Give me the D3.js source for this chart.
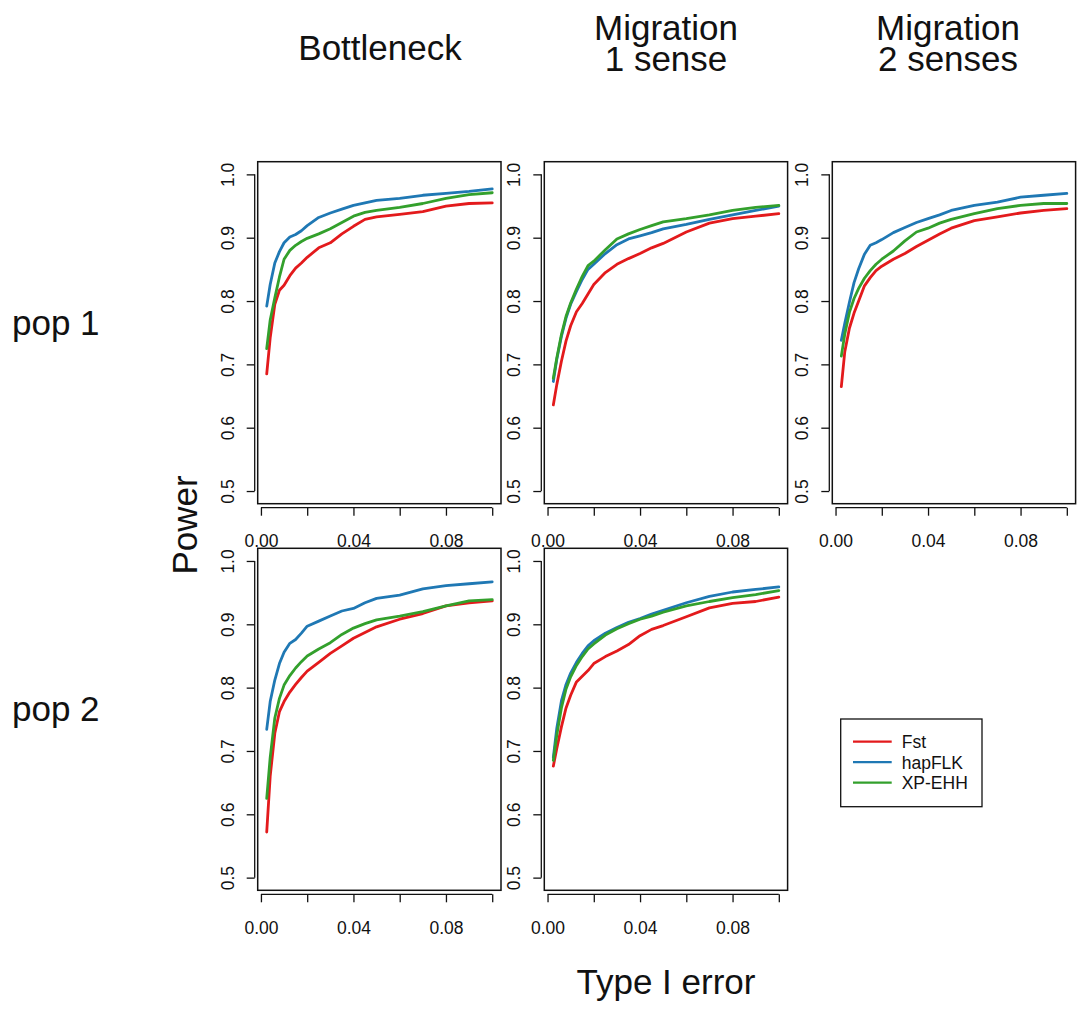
<!DOCTYPE html>
<html>
<head>
<meta charset="utf-8">
<script src="https://cdn.jsdelivr.net/npm/d3@7"></script>
<style>
  html, body { margin: 0; padding: 0; background: #fff; }
  svg { display: block; }
  text { font-family: "Liberation Sans", Arial, Helvetica, sans-serif; fill: #111; }
</style>
</head>
<body>
<svg id="chart" width="1079" height="1010"></svg>
<script>
// Type I error grid shared by every curve
const typeIError = [0.0025, 0.004, 0.006, 0.008, 0.01, 0.0125, 0.015, 0.0175, 0.02, 0.025,
                    0.03, 0.035, 0.04, 0.045, 0.05, 0.06, 0.07, 0.08, 0.09, 0.1];

const methods = ["Fst", "hapFLK", "XP-EHH"];
const methodColors = ["#E31A1C", "#1F78B4", "#33A02C"];

const scenarioTitles = [["Bottleneck"], ["Migration", "1 sense"], ["Migration", "2 senses"]];
const popLabels = ["pop 1", "pop 2"];

// Power per method, Bottleneck / pop 1
const bottleneckPop1Fst    = [0.685, 0.742, 0.795, 0.817, 0.825, 0.840, 0.852, 0.860, 0.869, 0.884, 0.892, 0.906, 0.918, 0.929, 0.933, 0.937, 0.941, 0.950, 0.954, 0.955];
const bottleneckPop1HapFLK = [0.792, 0.826, 0.860, 0.878, 0.892, 0.901, 0.905, 0.911, 0.919, 0.932, 0.939, 0.945, 0.951, 0.955, 0.959, 0.962, 0.967, 0.970, 0.973, 0.977];
const bottleneckPop1XPEHH  = [0.725, 0.770, 0.805, 0.838, 0.866, 0.880, 0.888, 0.894, 0.899, 0.906, 0.914, 0.924, 0.934, 0.940, 0.943, 0.948, 0.954, 0.962, 0.968, 0.971];

// Migration 1 sense / pop 1
const migration1Pop1Fst    = [0.636, 0.668, 0.705, 0.737, 0.761, 0.783, 0.796, 0.811, 0.826, 0.845, 0.858, 0.867, 0.875, 0.884, 0.891, 0.909, 0.923, 0.930, 0.934, 0.938];
const migration1Pop1HapFLK = [0.673, 0.708, 0.744, 0.773, 0.795, 0.815, 0.834, 0.850, 0.858, 0.875, 0.889, 0.898, 0.903, 0.908, 0.914, 0.921, 0.929, 0.936, 0.943, 0.950];
const migration1Pop1XPEHH  = [0.678, 0.710, 0.747, 0.776, 0.797, 0.819, 0.839, 0.856, 0.863, 0.881, 0.898, 0.906, 0.913, 0.919, 0.925, 0.930, 0.936, 0.943, 0.948, 0.951];

// Migration 2 senses / pop 1
const migration2Pop1Fst    = [0.665, 0.720, 0.757, 0.781, 0.800, 0.824, 0.837, 0.848, 0.855, 0.866, 0.875, 0.886, 0.896, 0.906, 0.915, 0.927, 0.933, 0.939, 0.943, 0.946];
const migration2Pop1HapFLK = [0.738, 0.765, 0.798, 0.829, 0.851, 0.874, 0.888, 0.892, 0.897, 0.908, 0.916, 0.924, 0.930, 0.936, 0.943, 0.951, 0.956, 0.964, 0.967, 0.970];
const migration2Pop1XPEHH  = [0.713, 0.748, 0.782, 0.804, 0.820, 0.836, 0.848, 0.858, 0.866, 0.879, 0.895, 0.909, 0.915, 0.923, 0.929, 0.938, 0.946, 0.951, 0.954, 0.954];

// Bottleneck / pop 2
const bottleneckPop2Fst    = [0.572, 0.660, 0.728, 0.762, 0.778, 0.793, 0.805, 0.816, 0.826, 0.840, 0.854, 0.866, 0.878, 0.887, 0.896, 0.908, 0.917, 0.929, 0.934, 0.937];
const bottleneckPop2HapFLK = [0.734, 0.778, 0.812, 0.838, 0.856, 0.870, 0.876, 0.886, 0.897, 0.905, 0.913, 0.921, 0.925, 0.934, 0.941, 0.946, 0.956, 0.961, 0.964, 0.967];
const bottleneckPop2XPEHH  = [0.625, 0.690, 0.752, 0.783, 0.804, 0.819, 0.831, 0.841, 0.850, 0.861, 0.871, 0.884, 0.894, 0.901, 0.907, 0.913, 0.920, 0.929, 0.937, 0.939];

// Migration 1 sense / pop 2
const migration1Pop2Fst    = [0.676, 0.704, 0.738, 0.768, 0.788, 0.809, 0.818, 0.827, 0.838, 0.849, 0.858, 0.868, 0.882, 0.892, 0.898, 0.912, 0.926, 0.933, 0.936, 0.943];
const migration1Pop2HapFLK = [0.690, 0.736, 0.779, 0.805, 0.823, 0.840, 0.854, 0.866, 0.874, 0.886, 0.895, 0.903, 0.909, 0.916, 0.922, 0.934, 0.944, 0.951, 0.955, 0.959];
const migration1Pop2XPEHH  = [0.685, 0.725, 0.768, 0.798, 0.817, 0.835, 0.849, 0.861, 0.869, 0.883, 0.893, 0.901, 0.908, 0.913, 0.919, 0.929, 0.936, 0.942, 0.947, 0.953];

const xTicks = [0, 0.02, 0.04, 0.06, 0.08, 0.1];
const xTickLabels = ["0.00", "", "0.04", "", "0.08", ""];
const yTicks = [0.5, 0.6, 0.7, 0.8, 0.9, 1.0];
const yTickLabels = ["0.5", "0.6", "0.7", "0.8", "0.9", "1.0"];

// panel grid: [row, col, series per method]
const panels = [
  { row: 0, col: 0, series: [bottleneckPop1Fst, bottleneckPop1HapFLK, bottleneckPop1XPEHH] },
  { row: 0, col: 1, series: [migration1Pop1Fst, migration1Pop1HapFLK, migration1Pop1XPEHH] },
  { row: 0, col: 2, series: [migration2Pop1Fst, migration2Pop1HapFLK, migration2Pop1XPEHH] },
  { row: 1, col: 0, series: [bottleneckPop2Fst, bottleneckPop2HapFLK, bottleneckPop2XPEHH] },
  { row: 1, col: 1, series: [migration1Pop2Fst, migration1Pop2HapFLK, migration1Pop2XPEHH] }
];

// layout
const colLeft = [257.7, 544.3, 832.3];
const rowTop = [161.7, 548.3];
const panelW = 243.3, panelH = 342;
const titleX = [380, 666, 948];

const svg = d3.select("#chart");
svg.append("rect").attr("width", 1079).attr("height", 1010).attr("fill", "#fff");

// R-style 4% axis padding around the data range
const xScale = d3.scaleLinear().domain([-0.0014, 0.1038]).range([0, panelW]);
const yScale = d3.scaleLinear().domain([0.48, 1.02]).range([panelH, 0]);

const line = d3.line().x(d => xScale(d[0])).y(d => yScale(d[1]));

panels.forEach(p => {
  const g = svg.append("g").attr("transform", `translate(${colLeft[p.col]},${rowTop[p.row]})`);

  p.series.forEach((vals, i) => {
    g.append("path")
      .datum(typeIError.map((x, k) => [x, vals[k]]))
      .attr("d", line)
      .attr("fill", "none")
      .attr("stroke", methodColors[i])
      .attr("stroke-width", 2.8)
      .attr("stroke-linejoin", "round")
      .attr("stroke-linecap", "round");
  });

  g.append("rect")
    .attr("width", panelW).attr("height", panelH)
    .attr("fill", "none").attr("stroke", "#111").attr("stroke-width", 1.5);

  // bottom axis
  const xAxis = d3.axisBottom(xScale).tickValues(xTicks)
    .tickFormat((d, i) => xTickLabels[i]).tickSize(8).tickPadding(19);
  const xa = g.append("g").attr("transform", `translate(0,${panelH + 4})`).call(xAxis);
  xa.select(".domain").attr("d", `M${xScale(0)},0H${xScale(0.1)}`).attr("stroke", "#111").attr("stroke-width", 1.3);
  xa.selectAll(".tick line").attr("stroke", "#111").attr("stroke-width", 1.3);
  xa.selectAll(".tick text").attr("font-size", 17.5).attr("fill", "#111")
    .attr("font-family", "Liberation Sans, Arial, sans-serif");

  // left axis, labels parallel to the axis
  const yAxis = d3.axisLeft(yScale).tickValues(yTicks)
    .tickFormat((d, i) => yTickLabels[i]).tickSize(8);
  const ya = g.append("g").attr("transform", `translate(-3,0)`).call(yAxis);
  ya.select(".domain").attr("d", `M0,${yScale(0.5)}V${yScale(1.0)}`).attr("stroke", "#111").attr("stroke-width", 1.3);
  ya.selectAll(".tick line").attr("stroke", "#111").attr("stroke-width", 1.3);
  ya.selectAll(".tick text")
    .attr("font-size", 17.5).attr("fill", "#111")
    .attr("font-family", "Liberation Sans, Arial, sans-serif")
    .attr("x", null).attr("dy", null)
    .attr("text-anchor", "middle")
    .attr("transform", "translate(-21,0) rotate(-90)");
});

// column titles
scenarioTitles.forEach((lines, c) => {
  const firstBaseline = lines.length === 1 ? 60 : 40;
  lines.forEach((s, j) => {
    svg.append("text").attr("text-anchor", "middle").attr("font-size", 35)
      .attr("x", titleX[c]).attr("y", firstBaseline + j * 31).text(s);
  });
});

// row labels
popLabels.forEach((s, r) => {
  svg.append("text").attr("x", 12).attr("y", rowTop[r] + panelH / 2 + 2)
    .attr("font-size", 35).text(s);
});

// shared axis titles
svg.append("text")
  .attr("transform", `translate(197,525) rotate(-90)`)
  .attr("text-anchor", "middle").attr("font-size", 35).text("Power");

svg.append("text")
  .attr("x", 666).attr("y", 994)
  .attr("text-anchor", "middle").attr("font-size", 35).text("Type I error");

// legend
const legend = svg.append("g").attr("transform", "translate(840.7,719)");
legend.append("rect").attr("width", 141.3).attr("height", 87.7)
  .attr("fill", "#fff").attr("stroke", "#111").attr("stroke-width", 1.3);
methods.forEach((m, i) => {
  const y = 22.7 + i * 20.5;
  legend.append("line").attr("x1", 12.3).attr("x2", 51).attr("y1", y).attr("y2", y)
    .attr("stroke", methodColors[i]).attr("stroke-width", 2.2);
  legend.append("text").attr("x", 61).attr("y", y + 6.3).attr("font-size", 17.5).text(m);
});
</script>
</body>
</html>
